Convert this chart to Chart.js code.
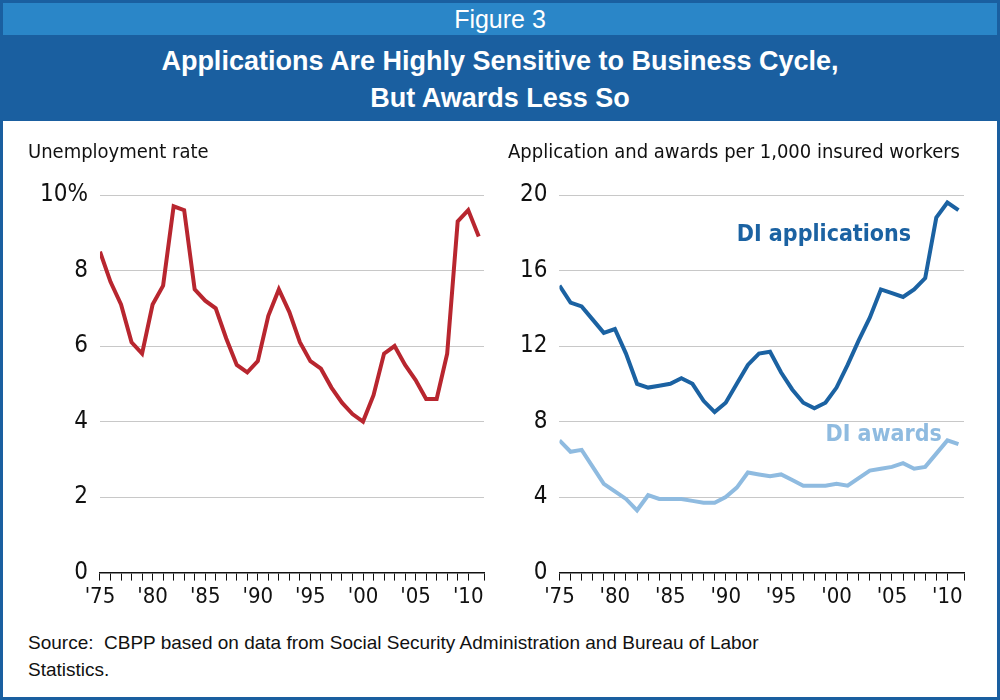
<!DOCTYPE html>
<html><head><meta charset="utf-8">
<script src="https://cdn.jsdelivr.net/npm/chart.js@4"></script>
<style>
body{margin:0;width:1000px;height:700px;background:#fff;font-family:"Liberation Sans",Arial,sans-serif;overflow:hidden}
#frame{position:absolute;left:0;top:0;width:994px;height:694px;border:3px solid #1a5fa0;background:#fff}
#fig{position:absolute;left:0;top:0;width:994px;height:32px;background:#2a86c8;color:#fff;text-align:center;font-size:25px;line-height:32px}
#title{position:absolute;left:0;top:32px;width:994px;height:86px;background:#1a5fa0;color:#fff;text-align:center;font-weight:bold;font-size:27px;line-height:37px;padding-top:8px;box-sizing:border-box}
.box{position:absolute;top:132px;height:478px}
#src{position:absolute;left:25px;top:626px;font-size:19px;line-height:27px;color:#111}
</style></head><body>
<div id="frame">
<div id="fig">Figure 3</div>
<div id="title">Applications Are Highly Sensitive to Business Cycle,<br>But Awards Less So</div>
<div class="box" style="left:25px;width:460px"><canvas id="left"></canvas></div>
<div class="box" style="left:505px;width:460px"><canvas id="right"></canvas></div>
<div id="src">Source:&nbsp; CBPP based on data from Social Security Administration and Bureau of Labor<br>Statistics.</div>
</div>
<script>
const years = [];
for (let y = 1975; y <= 2011; y++) years.push(y);
const unemployment = [8.5,7.7,7.1,6.1,5.8,7.1,7.6,9.7,9.6,7.5,7.2,7.0,6.2,5.5,5.3,5.6,6.8,7.5,6.9,6.1,5.6,5.4,4.9,4.5,4.2,4.0,4.7,5.8,6.0,5.5,5.1,4.6,4.6,5.8,9.3,9.6,8.9];
const diApplications = [15.2,14.3,14.1,13.4,12.7,12.9,11.6,10.0,9.8,9.9,10.0,10.3,10.0,9.1,8.5,9.0,10.0,11.0,11.6,11.7,10.6,9.7,9.0,8.7,9.0,9.8,11.0,12.3,13.5,15.0,14.8,14.6,15.0,15.6,18.8,19.6,19.2];
const diAwards = [7.0,6.4,6.5,5.6,4.7,4.3,3.9,3.3,4.1,3.9,3.9,3.9,3.8,3.7,3.7,4.0,4.5,5.3,5.2,5.1,5.2,4.9,4.6,4.6,4.6,4.7,4.6,5.0,5.4,5.5,5.6,5.8,5.5,5.6,6.3,7.0,6.8];
const leftTicks = [0,2,4,6,8,10];
const rightTicks = [0,4,8,12,16,20];

const FONT = '"Liberation Sans Narrow","DejaVu Sans Condensed",sans-serif';
Chart.defaults.font.family = FONT;
Chart.defaults.color = '#111';

function pts(vals){ return vals.map((v,i)=>({x:years[i], y:v})); }

// labels placed in data coordinates
const labelPlugin = {
  id:'labels',
  afterDatasetsDraw(chart, args, opts){
    if(!opts.items) return;
    const {ctx, scales} = chart;
    ctx.save();
    opts.items.forEach(it=>{
      ctx.font = 'bold 23px ' + FONT;
      ctx.fillStyle = it.color;
      ctx.textAlign = 'left';
      ctx.textBaseline = 'middle';
      ctx.fillText(it.text, scales.x.getPixelForValue(it.x), scales.y.getPixelForValue(it.y));
    });
    ctx.restore();
  }
};

function makeChart(id, datasets, ticks, max, title, fmt, items){
  return new Chart(document.getElementById(id), {
    type:'line',
    data:{datasets},
    plugins:[labelPlugin],
    options:{
      responsive:true, maintainAspectRatio:false, animation:false,
      layout:{padding:{top:0,right:4}},
      elements:{point:{radius:0}, line:{borderWidth:4, tension:0}},
      plugins:{legend:{display:false}, tooltip:{enabled:false},
        title:{display:true, text:title, align:'start', font:{size:20, weight:'normal'}, padding:{top:6,bottom:30}, color:'#111'},
        labels:{items}},
      scales:{
        x:{type:'linear', min:1975, max:2011.5,
          grid:{drawOnChartArea:false, color:'#111', tickLength:8, tickWidth:1},
          border:{color:'#111', width:1.5},
          ticks:{stepSize:1, autoSkip:false, maxRotation:0, font:{size:22},
            callback:v=> v%5===0 ? "'" + String(v).slice(2) : ''}},
        y:{min:0, max,
          afterBuildTicks:ax=>{ax.ticks = ticks.map(v=>({value:v}));},
          grid:{color:'#c8c8c8', drawTicks:false, lineWidth:1},
          border:{display:false},
          ticks:{padding:12, font:{size:24}, callback:fmt}}
      }
    }
  });
}

makeChart('left',
  [{data:pts(unemployment), borderColor:'#b8262f'}],
  leftTicks, 10, 'Unemployment rate', v=> v===10 ? '10%' : v, []);

makeChart('right',
  [{data:pts(diApplications), borderColor:'#1b62a2'},
   {data:pts(diAwards), borderColor:'#8fbbe0'}],
  rightTicks, 20, 'Application and awards per 1,000 insured workers', v=>v,
  [{text:'DI applications', x:1991, y:17.9, color:'#1b62a2'},
   {text:'DI awards', x:1999, y:7.3, color:'#8fbbe0'}]);
</script>
</body></html>
